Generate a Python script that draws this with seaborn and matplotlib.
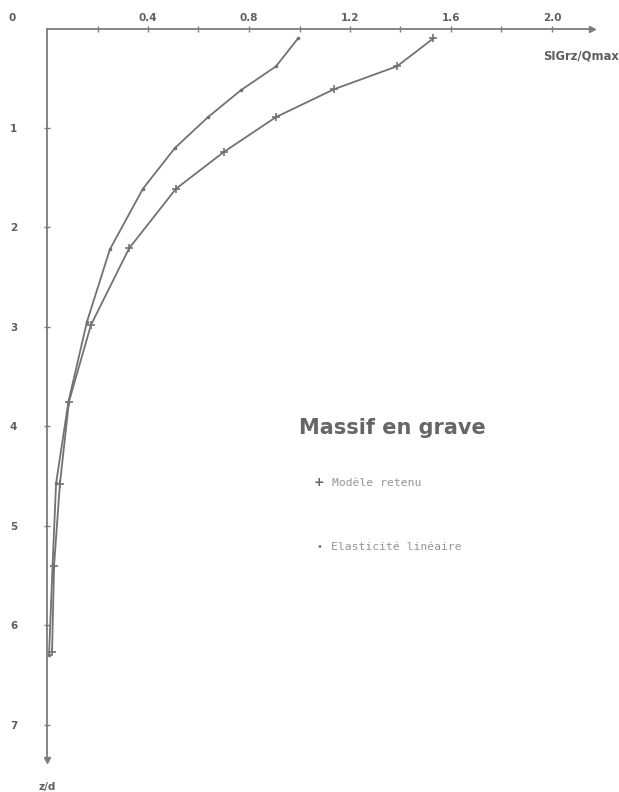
import matplotlib
matplotlib.use("Agg")
import matplotlib.pyplot as plt
import seaborn as sns
import pandas as pd

# ---- data ----
z_model = [0.10, 0.38, 0.61, 0.89, 1.24, 1.61, 2.21, 2.98, 3.75, 4.58, 5.40, 6.27]
s_model = [1.53, 1.386, 1.137, 0.907, 0.701, 0.511, 0.325, 0.174, 0.087, 0.051, 0.028, 0.020]
z_elas = [0.10, 0.38, 0.62, 0.89, 1.20, 1.61, 2.22, 2.95, 3.75, 4.57, 5.40, 6.30]
s_elas = [0.994, 0.907, 0.768, 0.638, 0.507, 0.380, 0.249, 0.158, 0.085, 0.036, 0.022, 0.008]
x_major = [0.4, 0.8, 1.2, 1.6, 2.0]
x_minor = [0.2, 0.6, 1.0, 1.4, 1.8]
x_labels = ["0.4", "0.8", "1.2", "1.6", "2.0"]
y_ticks = [1, 2, 3, 4, 5, 6, 7]
y_labels = ["1", "2", "3", "4", "5", "6", "7"]
series_names = ["Modèle retenu", "Elasticité linéaire"]

df_model = pd.DataFrame({"s": s_model, "z": z_model})
df_elas = pd.DataFrame({"s": s_elas, "z": z_elas})

sns.set_theme(style="white")
plt.rcParams["font.family"] = ["DejaVu Sans"]

GRAY = "#727272"
AXC = "#7c7c7c"
TXT = "#5e5e5e"
fig = plt.figure(figsize=(6.19, 7.92), dpi=100)
ax = fig.add_axes([47 / 619, 1 - 759.8 / 792, (592.4 - 47) / 619, (759.8 - 28.5) / 792])

sns.lineplot(data=df_model, x="s", y="z", sort=False, estimator=None, ax=ax,
             color=GRAY, lw=1.3, marker="+", markersize=5.5, markeredgewidth=1.2,
             markeredgecolor=GRAY)
sns.lineplot(data=df_elas, x="s", y="z", sort=False, estimator=None, ax=ax,
             color=GRAY, lw=1.3, marker="o", markersize=2.6, markeredgewidth=0,
             markerfacecolor=GRAY)
for ln in ax.get_lines():
    ln.set_solid_joinstyle("round")

ax.set_xlim(0, 2.16)
ax.set_ylim(7.35, 0)
for sp in ["right", "bottom"]:
    ax.spines[sp].set_visible(False)
for sp in ["top", "left"]:
    ax.spines[sp].set_color(AXC)
    ax.spines[sp].set_linewidth(1.3)

ax.xaxis.tick_top()
ax.set_xticks(x_major)
ax.set_xticklabels(x_labels)
ax.set_xticks(x_minor, minor=True)
ax.set_yticks(y_ticks)
ax.set_yticklabels(y_labels)
ax.tick_params(axis="x", which="both", direction="inout", length=5, width=1,
               color=AXC, top=True, bottom=False, labelsize=7.5,
               labelcolor=TXT, pad=1.5)
ax.tick_params(axis="y", which="both", direction="inout", length=5, width=1,
               color=AXC, left=True, labelsize=7.5, labelcolor=TXT, pad=19)
for lab in ax.get_xticklabels() + ax.get_yticklabels():
    lab.set_fontweight("bold")
ax.set_xlabel("")
ax.set_ylabel("")

# arrow heads
ax.plot(1, 1, ">", transform=ax.transAxes, clip_on=False, color=AXC, ms=5)
ax.plot(0, 0, "v", transform=ax.transAxes, clip_on=False, color=AXC, ms=5)

# axis titles and origin label
fig.text(12 / 619, 1 - 18 / 792, "0", fontsize=7.5, fontweight="bold", color=TXT,
         ha="center", va="center")
fig.text(543 / 619, 1 - 56 / 792, "SIGrz/Qmax", fontsize=8.3, fontweight="bold",
         color=TXT, ha="left", va="center")
fig.text(47 / 619, 1 - 787 / 792, "z/d", fontsize=7.5, fontweight="bold", color=TXT,
         ha="center", va="center")

# legend block
fig.text(392 / 619, 1 - 428 / 792, "Massif en grave", fontsize=15, fontweight="bold",
         color="#666666", ha="center", va="center")
fig.text(319 / 619, 1 - 483 / 792, "+", fontsize=9, fontweight="bold", color="#666666",
         ha="center", va="center")
fig.text(332 / 619, 1 - 483 / 792, series_names[0], fontsize=8.2,
         family="DejaVu Sans Mono", color="#959595", ha="left", va="center")
fig.text(319 / 619, 1 - 547 / 792, "•", fontsize=7, color="#777777",
         ha="center", va="center")
fig.text(331 / 619, 1 - 547 / 792, series_names[1], fontsize=8.2,
         family="DejaVu Sans Mono", color="#959595", ha="left", va="center")

fig.savefig("out.png", dpi=100)
